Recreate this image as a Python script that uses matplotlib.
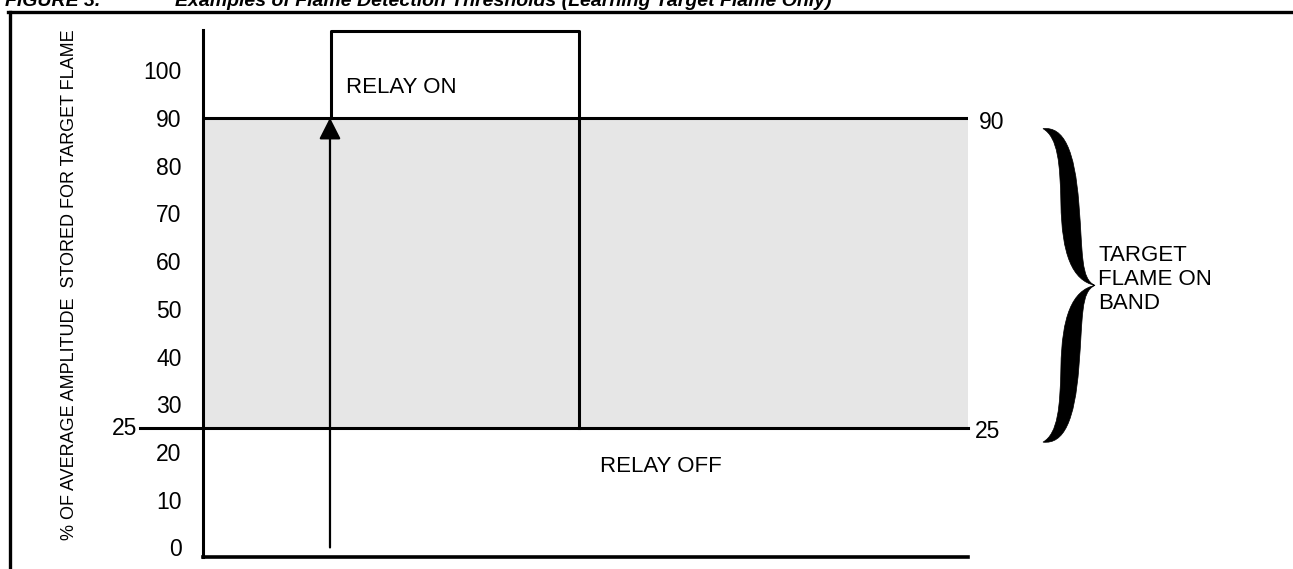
import matplotlib
matplotlib.use('Agg')
import matplotlib.pyplot as plt
from matplotlib.path import Path
from matplotlib.patches import PathPatch, FancyArrowPatch
import numpy as np

# values
yticks = [0, 10, 20, 30, 40, 50, 60, 70, 80, 90, 100]
upper_thr = 90
lower_thr = 25
relay_on_t = 0.167     # relay switches on (fraction of time axis)
relay_off_t = 0.491    # relay switches off
relay_high = 108.2
arrow_t = 0.166
y_min, y_max = -2.0, 108.4

narrow = ['Liberation Sans Narrow', 'Liberation Sans', 'DejaVu Sans']
regular = ['Liberation Sans', 'DejaVu Sans']

W, H = 1293, 569
fig = plt.figure(figsize=(W / 100, H / 100), dpi=100)

# main chart area in pixel terms
x0, x1, ytop, ybot = 203, 968, 30, 557
ax = fig.add_axes([x0 / W, 1 - ybot / H, (x1 - x0) / W, (ybot - ytop) / H])
ax.set_xlim(0, 1)
ax.set_ylim(y_min, y_max)
for s in ['top', 'right', 'bottom']:
    ax.spines[s].set_visible(False)
ax.spines['left'].set_linewidth(2.2)
ax.set_xticks([])

ax.set_yticks(yticks)
ax.set_yticklabels([str(v) for v in yticks], family=regular, fontsize=16.5)
ax.tick_params(axis='y', length=0, pad=15.5)

# shaded band between thresholds
ax.fill_between([0, 1], lower_thr, upper_thr, color='#e6e6e6', lw=0, zorder=0)
ax.plot([0, 1], [upper_thr, upper_thr], color='black', lw=2.2)
ax.plot([-0.082, 1], [lower_thr, lower_thr], color='black', lw=2.2, clip_on=False)
ax.plot([0, 1], [y_min + 0.1, y_min + 0.1], color='black', lw=2.6, clip_on=False)

# relay state trace
ax.plot([relay_on_t, relay_on_t, relay_off_t, relay_off_t],
        [upper_thr, relay_high, relay_high, lower_thr], color='black', lw=2.2,
        clip_on=False)

# arrow of rising flame amplitude
ax.add_patch(FancyArrowPatch((arrow_t, 0), (arrow_t, upper_thr),
                             arrowstyle='-|>,head_length=0.65,head_width=0.33',
                             mutation_scale=20, lw=1.6, color='black',
                             shrinkA=0, shrinkB=0))

ax.text(0.187, 96.3, 'RELAY ON', family=narrow, fontsize=16, va='center')
ax.text(0.519, 17.0, 'RELAY OFF', family=narrow, fontsize=16, va='center')

# 25 label on the left and threshold labels on the right
ax.text(-0.086, lower_thr, '25', family=regular, fontsize=16.5, ha='right', va='center')
ax.text(1.014, upper_thr - 1.0, '90', family=regular, fontsize=16.5, ha='left', va='center')
ax.text(1.009, lower_thr - 0.8, '25', family=regular, fontsize=16.5, ha='left', va='center')

# curly brace for the band, upper half outline in unit box (u right, v down)
half = [(0.00, 0.005), (0.29, 0.06), (0.33, 0.23), (0.345, 0.48),
        (0.36, 0.80), (0.56, 0.97), (1.00, 1.00),
        (0.72, 0.96), (0.77, 0.80), (0.69, 0.48),
        (0.61, 0.14), (0.40, -0.01), (0.00, 0.005)]
b_left, b_right = 1.098, 1.166
b_top, b_bot = upper_thr - 2.1, lower_thr - 3.1
b_mid = (b_top + b_bot) / 2
verts, codes = [], []
for sign in (1, -1):
    for i, (u, v) in enumerate(half):
        verts.append((b_left + u * (b_right - b_left), b_mid + sign * (1 - v) * (b_top - b_mid)))
        codes.append(Path.MOVETO if i == 0 else Path.CURVE4)
    verts.append(verts[-1])
    codes.append(Path.CLOSEPOLY)
ax.add_patch(PathPatch(Path(verts, codes), facecolor='black', edgecolor='black',
                       lw=0.5, clip_on=False))
ax.text(1.170, b_mid + 1.2, 'TARGET\nFLAME ON\nBAND', family=narrow,
        fontsize=16, va='center', ha='left', linespacing=1.2)

# y axis title
fig.text(70 / W, 1 - 285 / H, '% OF AVERAGE AMPLITUDE  STORED FOR TARGET FLAME',
         family=narrow, fontsize=13, rotation=90, ha='center', va='center')

# page frame and clipped caption
fig.add_artist(plt.Line2D([8 / W, 1], [1 - 12 / H, 1 - 12 / H], color='black', lw=2.4))
fig.add_artist(plt.Line2D([9.5 / W, 9.5 / W], [0, 1 - 12 / H], color='black', lw=2.4))
fig.text(5 / W, 1 - 6 / H, 'FIGURE 3.', family=regular, fontsize=14, weight='bold',
         style='italic', va='baseline')
fig.text(175 / W, 1 - 6 / H, 'Examples of Flame Detection Thresholds (Learning Target Flame Only)',
         family=regular, fontsize=14, weight='bold', style='italic', va='baseline')

fig.savefig('out.png', dpi=100)
